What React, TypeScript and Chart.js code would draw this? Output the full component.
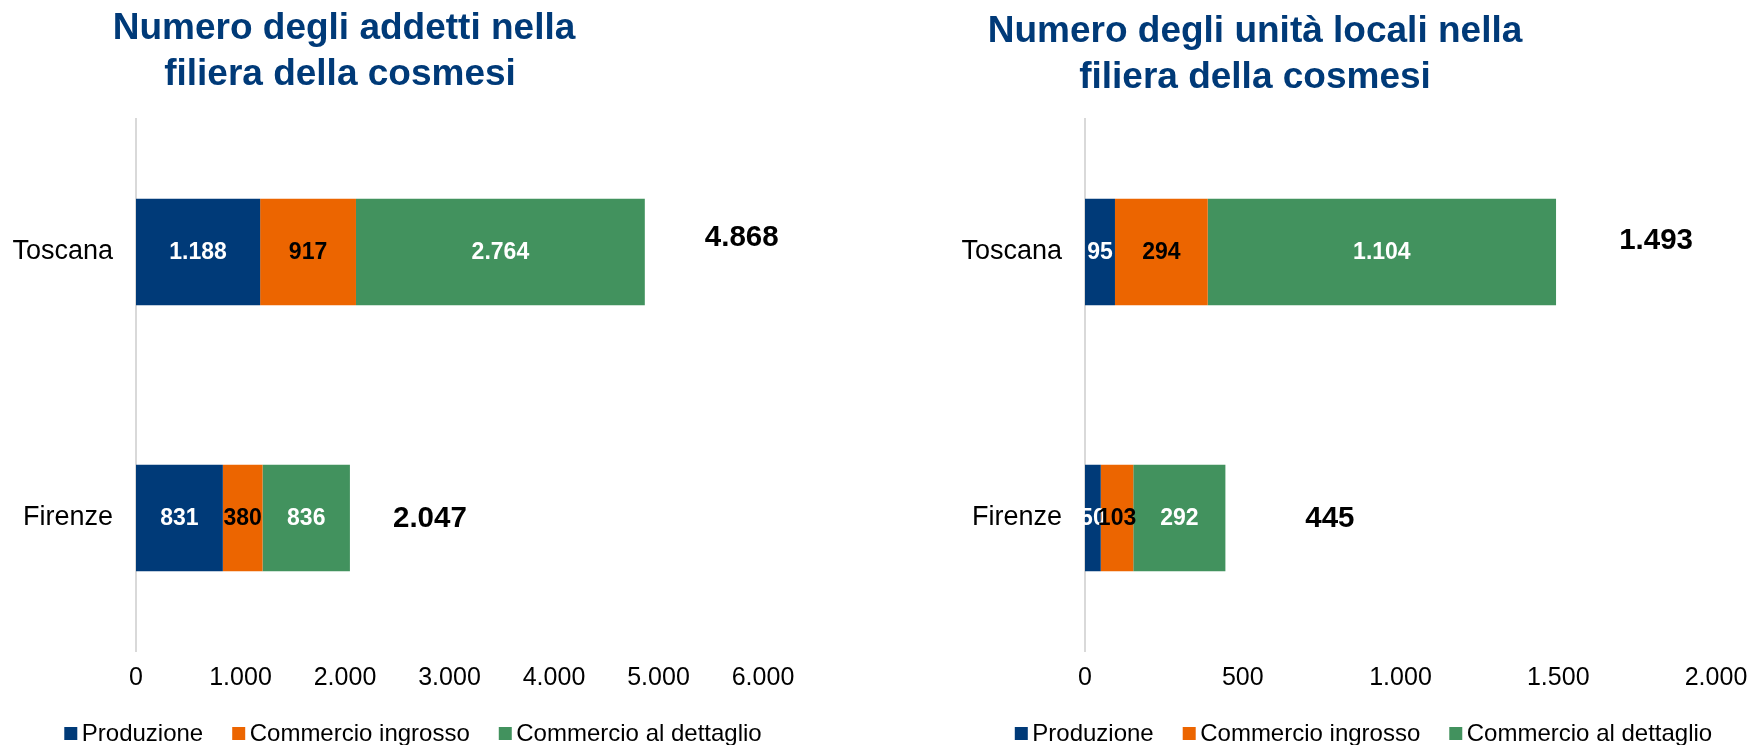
import React, { useEffect, useRef } from "react";
import { Chart, registerables } from "chart.js";

Chart.register(...registerables);

const FONT = "'Liberation Sans', Arial, Helvetica, sans-serif";

// ---------- data ----------
const categories = ["Toscana", "Firenze"];
const seriesNames = ["Produzione", "Commercio ingrosso", "Commercio al dettaglio"];

const addettiProduzione = [1188, 831];
const addettiIngrosso = [917, 380];
const addettiDettaglio = [2764, 836];
const addettiTotali = [4868, 2047];
const addettiTicks = [0, 1000, 2000, 3000, 4000, 5000, 6000];

const unitaProduzione = [95, 50];
const unitaIngrosso = [294, 103];
const unitaDettaglio = [1104, 292];
const unitaTotali = [1493, 445];
const unitaTicks = [0, 500, 1000, 1500, 2000];

const titoloAddetti = ["Numero degli addetti nella", "filiera della cosmesi"];
const titoloUnita = ["Numero degli unità locali nella", "filiera della cosmesi"];

// ---------- styles ----------
const seriesColors = ["#003A78", "#EC6500", "#42925E"];
const valueLabelColors = ["#FFFFFF", "#000000", "#FFFFFF"];
const titleColor = "#003A78";

function fmt(n: number): string {
  const s = String(Math.round(Math.abs(n)));
  const g = s.replace(/\B(?=(\d{3})+(?!\d))/g, ".");
  return n < 0 ? "-" + g : g;
}

type PanelCfg = {
  title: string[];
  titleXs: number[];
  titleBaselines: number[];
  series: number[][];
  totals: number[];
  totalOffsets: number[][];
  ticks: number[];
  axisWidth: number;
  padRight: number;
  legendX: number;
};

function makeOverlay(cfg: PanelCfg) {
  return {
    id: "overlay",
    afterDraw(chart: any) {
      const ctx = chart.ctx as CanvasRenderingContext2D;
      ctx.save();
      // titles
      ctx.fillStyle = titleColor;
      ctx.font = `bold 37px ${FONT}`;
      ctx.textAlign = "center";
      ctx.textBaseline = "alphabetic";
      cfg.title.forEach((line, i) => ctx.fillText(line, cfg.titleXs[i], cfg.titleBaselines[i]));

      // value labels inside bars
      ctx.font = `bold 23px ${FONT}`;
      ctx.textBaseline = "middle";
      chart.data.datasets.forEach((ds: any, di: number) => {
        const meta = chart.getDatasetMeta(di);
        meta.data.forEach((el: any, i: number) => {
          const p = el.getProps(["x", "base", "y"], true);
          ctx.fillStyle = valueLabelColors[di];
          ctx.fillText(fmt(ds.data[i]), (p.x + p.base) / 2, p.y + 1);
        });
      });

      // totals
      const xs = chart.scales.x;
      const ys = chart.scales.y;
      ctx.font = `bold 29.5px ${FONT}`;
      ctx.fillStyle = "#000000";
      cfg.totals.forEach((t, i) => {
        const px = xs.getPixelForValue(t) + cfg.totalOffsets[i][0];
        const py = ys.getPixelForValue(i) + cfg.totalOffsets[i][1];
        ctx.fillText(fmt(t), px, py);
      });

      // legend
      ctx.font = `24px ${FONT}`;
      ctx.textAlign = "left";
      const box = 13;
      const gap = 4.5;
      const spacing = 29;
      const items = chart.data.datasets.map((ds: any) => ({
        label: ds.label as string,
        color: ds.backgroundColor as string,
        w: ctx.measureText(ds.label).width,
      }));
      const total =
        items.reduce((s: number, it: any) => s + box + gap + it.w, 0) + spacing * (items.length - 1);
      let x = cfg.legendX - total / 2;
      const ly = 733.5;
      items.forEach((it: any) => {
        ctx.fillStyle = it.color;
        ctx.fillRect(x, ly - box / 2, box, box);
        ctx.fillStyle = "#000000";
        ctx.fillText(it.label, x + box + gap, ly + 1);
        x += box + gap + it.w + spacing;
      });
      ctx.restore();
    },
  };
}

function buildConfig(cfg: PanelCfg): any {
  return {
    type: "bar",
    data: {
      labels: categories,
      datasets: seriesNames.map((name, i) => ({
        label: name,
        data: cfg.series[i],
        backgroundColor: seriesColors[i],
        borderWidth: 0,
        barPercentage: 0.4,
        categoryPercentage: 1,
      })),
    },
    options: {
      indexAxis: "y",
      animation: false,
      responsive: false,
      maintainAspectRatio: false,
      layout: { padding: { top: 119, right: cfg.padRight, bottom: 0, left: 0 } },
      scales: {
        x: {
          stacked: true,
          min: cfg.ticks[0],
          max: cfg.ticks[cfg.ticks.length - 1],
          afterBuildTicks: (s: any) => {
            s.ticks = cfg.ticks.map((v) => ({ value: v }));
          },
          afterFit: (s: any) => {
            s.height = 94;
            s.paddingLeft = 0;
            s.paddingRight = 0;
          },
          ticks: {
            callback: (v: any) => fmt(Number(v)),
            font: { family: FONT, size: 25 },
            color: "#000000",
            padding: 12,
            maxRotation: 0,
            autoSkip: false,
          },
          grid: { display: false, drawTicks: false },
          border: { display: false },
        },
        y: {
          stacked: true,
          afterFit: (s: any) => {
            s.width = cfg.axisWidth;
          },
          ticks: {
            font: { family: FONT, size: 27 },
            color: "#000000",
            padding: 23,
          },
          grid: { display: false, drawTicks: false },
          border: { display: true, color: "#D9D9D9", width: 2 },
        },
      },
      plugins: {
        legend: { display: false },
        title: { display: false },
        tooltip: { enabled: false },
      },
    },
    plugins: [makeOverlay(cfg)],
  };
}

const addettiCfg: PanelCfg = {
  title: titoloAddetti,
  titleXs: [344, 340],
  titleBaselines: [39, 85],
  series: [addettiProduzione, addettiIngrosso, addettiDettaglio],
  totals: addettiTotali,
  totalOffsets: [
    [97, -14.5],
    [80, 0.5],
  ],
  ticks: addettiTicks,
  axisWidth: 136,
  padRight: 111,
  legendX: 413,
};

const unitaCfg: PanelCfg = {
  title: titoloUnita,
  titleXs: [381, 381],
  titleBaselines: [42, 88],
  series: [unitaProduzione, unitaIngrosso, unitaDettaglio],
  totals: unitaTotali,
  totalOffsets: [
    [100, -11],
    [104.5, 1],
  ],
  ticks: unitaTicks,
  axisWidth: 211,
  padRight: 32,
  legendX: 489.5,
};

function Panel({ cfg, left }: { cfg: PanelCfg; left: number }) {
  const ref = useRef<HTMLCanvasElement>(null);
  useEffect(() => {
    if (!ref.current) return;
    const chart = new Chart(ref.current, buildConfig(cfg));
    return () => chart.destroy();
  }, [cfg]);
  return (
    <canvas
      ref={ref}
      width={874}
      height={745}
      style={{ position: "absolute", left, top: 0, width: 874, height: 745, display: "block" }}
    />
  );
}

export default function App() {
  return (
    <div
      style={{
        position: "absolute",
        left: 0,
        top: 0,
        width: 1748,
        height: 745,
        background: "#FFFFFF",
        overflow: "hidden",
      }}
    >
      <Panel cfg={addettiCfg} left={0} />
      <Panel cfg={unitaCfg} left={874} />
    </div>
  );
}
